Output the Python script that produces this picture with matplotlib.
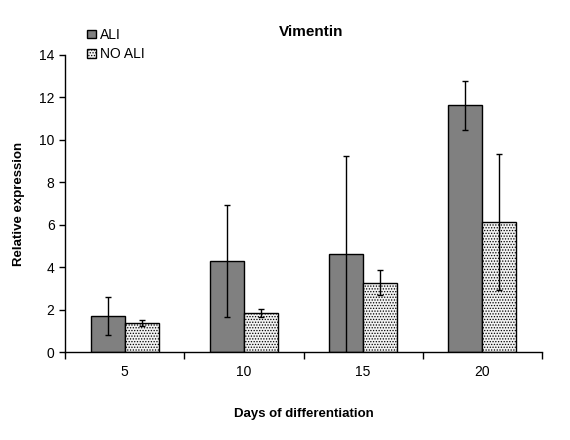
import numpy as np
import matplotlib.pyplot as plt

plt.rcParams['font.family'] = ['Liberation Sans', 'DejaVu Sans']
plt.rcParams['hatch.linewidth'] = 0.6
plt.rcParams['hatch.color'] = '#9a9a9a'

days = ['5', '10', '15', '20']
ali = [1.7, 4.28, 4.6, 11.62]
ali_err = [0.88, 2.65, 4.65, 1.15]
noali = [1.37, 1.84, 3.27, 6.12]
noali_err = [0.14, 0.2, 0.58, 3.2]

x = np.arange(len(days))
w = 0.285

fig = plt.figure(figsize=(5.7, 4.4), dpi=100)
ax = fig.add_axes([0.114, 0.2, 0.837, 0.675])

ax.bar(x - w / 2, ali, w, color='#808080', edgecolor='black', lw=1, label='ALI',
       yerr=ali_err, error_kw=dict(ecolor='black', elinewidth=1, capsize=2.5, capthick=1))
ax.bar(x + w / 2, noali, w, color='#f2f2f2', edgecolor='black', lw=1, hatch='......',
       label='NO ALI',
       yerr=noali_err, error_kw=dict(ecolor='black', elinewidth=1, capsize=2.5, capthick=1))

ax.set_xlim(-0.5, len(days) - 0.5)
ax.set_ylim(0, 14)
ax.set_yticks(range(0, 15, 2))
ax.set_xticks(x)
ax.set_xticklabels(days)
ax.set_xticks(np.arange(-0.5, len(days), 1), minor=True)
ax.tick_params(axis='x', which='major', length=0, pad=9, labelsize=10)
ax.tick_params(axis='x', which='minor', length=5, width=1, direction='out')
ax.tick_params(axis='y', length=4, width=1, direction='out', labelsize=10)

for s in ['top', 'right']:
    ax.spines[s].set_visible(False)
for s in ['left', 'bottom']:
    ax.spines[s].set_linewidth(1)

ax.set_ylabel('Relative expression', fontsize=9.5, fontweight='bold', labelpad=10)
ax.set_xlabel('Days of differentiation', fontsize=9.5, fontweight='bold', labelpad=21)

fig.text(0.545, 0.927, 'Vimentin', fontsize=11, fontweight='bold', ha='center', va='center')

fig.legend(loc='upper left', bbox_to_anchor=(0.131, 0.965), frameon=False, fontsize=10,
           handlelength=0.6, handleheight=0.6, handletextpad=0.3, labelspacing=0.4)

fig.savefig('out.png', dpi=100)
